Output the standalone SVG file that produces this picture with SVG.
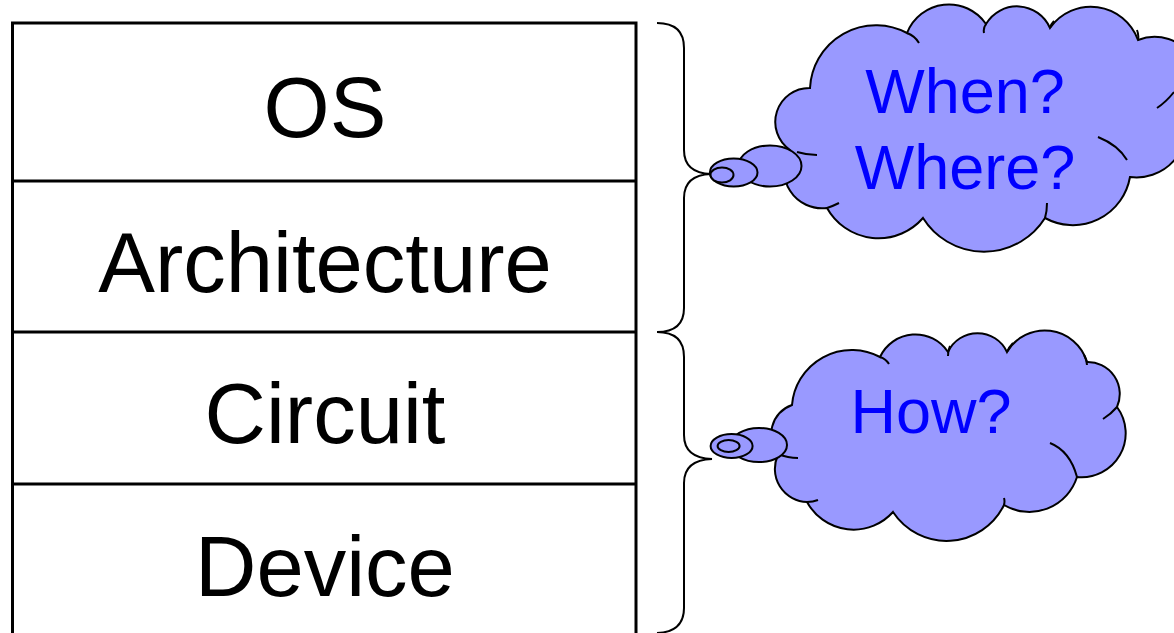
<svg xmlns="http://www.w3.org/2000/svg" width="1174" height="633" viewBox="0 0 1174 633">
<style>
.lbl{font-family:"Liberation Sans",Arial,sans-serif;font-size:85px;fill:#000;text-anchor:middle}
.q{font-family:"Liberation Sans",Arial,sans-serif;font-size:63px;fill:#0000FF;text-anchor:middle}
.cl{fill:#9999FF;stroke:#000;stroke-width:2}
.tl{fill:none;stroke:#000;stroke-width:2}
.br{fill:none;stroke:#000;stroke-width:2}
.ln{stroke:#000;stroke-width:3;fill:none}
</style>
<rect width="1174" height="633" fill="#fff"/>
<g id="stack">
<rect class="ln" x="12.5" y="23" width="623.5" height="620"/>
</g>
<g id="os"><text class="lbl" x="325" y="137">OS</text></g>
<g id="architecture"><line class="ln" x1="12.5" y1="181" x2="636" y2="181"/><text class="lbl" x="325" y="292">Architecture</text></g>
<g id="circuit"><line class="ln" x1="12.5" y1="332" x2="636" y2="332"/><text class="lbl" x="325" y="443">Circuit</text></g>
<g id="device"><line class="ln" x1="12.5" y1="484" x2="636" y2="484"/><text class="lbl" x="325" y="596">Device</text></g>
<g id="connectors">
<path class="br" d="M657,23 Q684,23 684,48 L684,150 Q684,173 711,174 Q684,175 684,198 L684,308 Q684,332 657,332"/>
<path class="br" d="M657,332 Q684,332 684,357 L684,435 Q684,458 712,459 Q684,460 684,483 L684,608 Q684,632 657,633"/>
</g>
<g id="cloud-top">
<path class="cl" d="M810,88 A66,66 0 0 1 907,33 A45,45 0 0 1 986,24 A36,36 0 0 1 1050,28 A50,50 0 0 1 1138,40 A45,45 0 0 1 1185,115 A50,50 0 0 1 1130,177 A58,58 0 0 1 1045,218 A72,72 0 0 1 923,218 A59,59 0 0 1 827,208 A38,38 0 0 1 790,150 A34,34 0 0 1 810,88 Z"/>
<path class="tl" d="M907,33 q8,3 12,10 M986,24 q-3,4 -2,9 M1050,28 q1,-4 4,-7 M1138,40 q1,-5 -1,-10 M1157,108 q9,-6 17,-16 M1098,137 q20,8 29,23 M1047,203 q0,8 -2,15 M839,203 q-6,3 -12,5 M817,155 q-10,0 -20,-3"/>
<ellipse class="cl" cx="770" cy="166" rx="31.5" ry="20.5"/>
<ellipse class="cl" cx="733.7" cy="172.5" rx="23.8" ry="14"/>
<ellipse class="cl" cx="722" cy="175" rx="11.5" ry="7.5"/>
<text class="q" x="965" y="113">When?</text>
<text class="q" x="965" y="189">Where?</text>
</g>
<g id="cloud-bottom">
<path class="cl" d="M792,405 A60,60 0 0 1 880,357 A39,39 0 0 1 948,352 A32.5,32.5 0 0 1 1007,352 A44,44 0 0 1 1087,362 A32,32 0 0 1 1117,407 A44,44 0 0 1 1077,477 A50,50 0 0 1 1004,505 A64,64 0 0 1 893,512 A53,53 0 0 1 807,502 A33,33 0 0 1 778,455 A32,32 0 0 1 792,405 Z"/>
<path class="tl" d="M880,357 q6,2 9,7 M948,356 q0,-6 2,-10 M1007,352 q2,-5 6,-9 M1087,365 q0,-5 -3,-10 M1103,419 q8,-5 14,-12 M1050,443 q20,8 27,34 M1004,498 q1,3 0,7 M818,500 q-5,2 -11,2 M798,458 q-10,0 -20,-4"/>
<ellipse class="cl" cx="759" cy="445" rx="28" ry="17"/>
<ellipse class="cl" cx="731.6" cy="446" rx="21" ry="12"/>
<ellipse class="cl" cx="728.6" cy="446" rx="11" ry="6"/>
<text class="q" x="931" y="433">How?</text>
</g>
</svg>
